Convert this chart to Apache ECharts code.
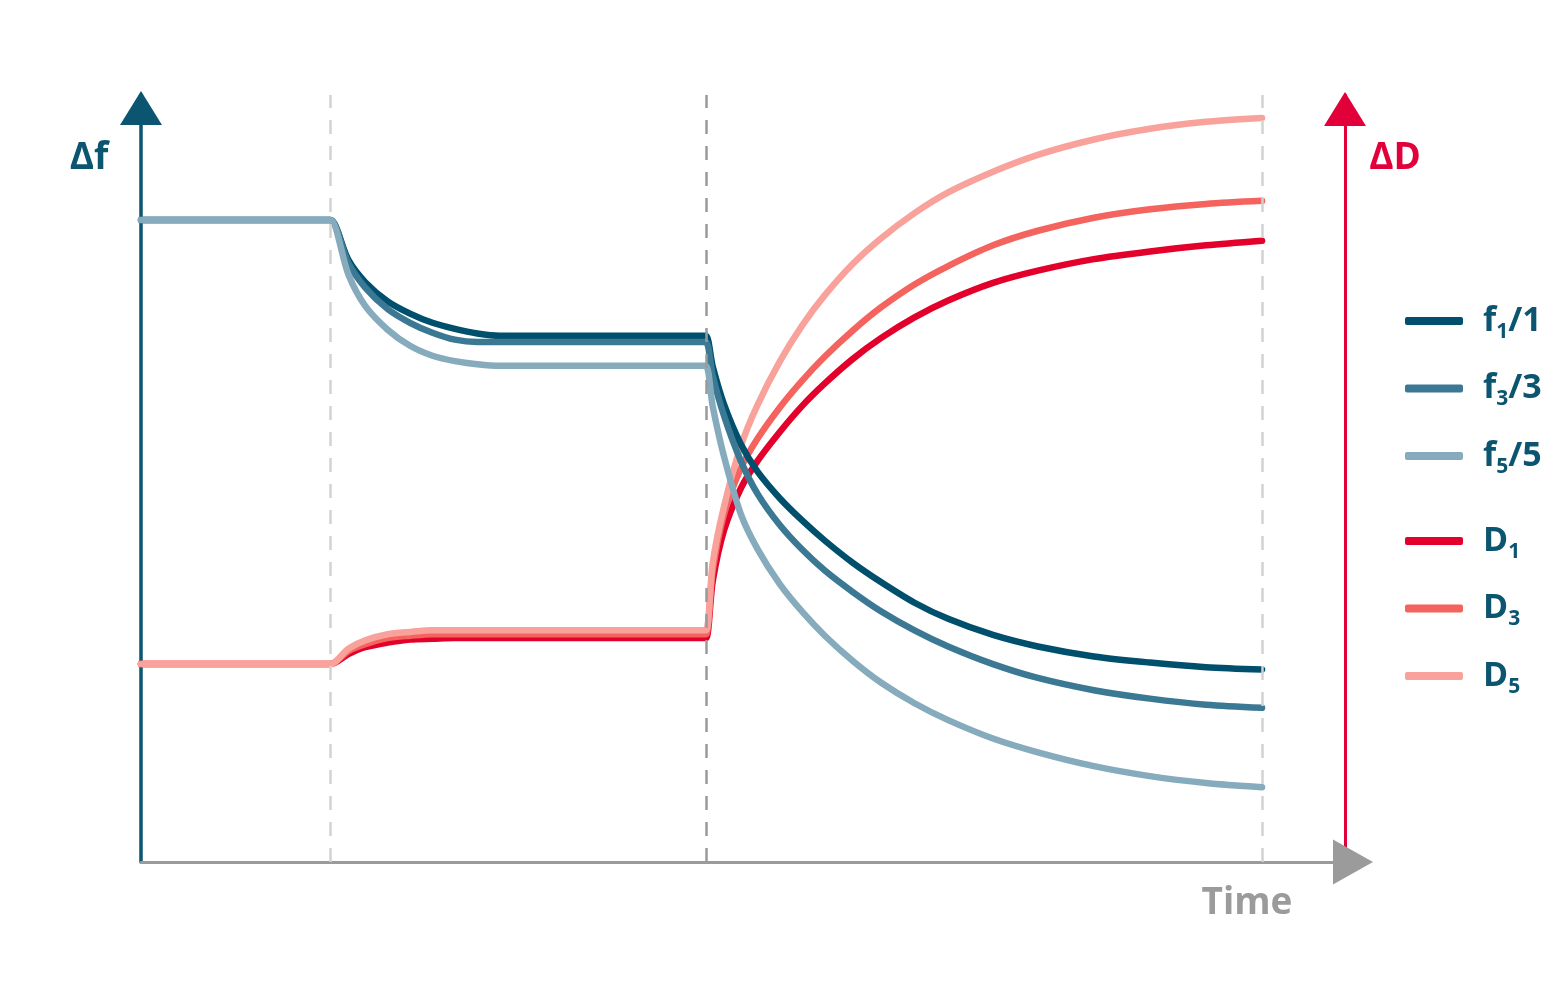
<!DOCTYPE html>
<html><head><meta charset="utf-8">
<script src="https://cdn.jsdelivr.net/npm/echarts@6/dist/echarts.min.js"></script>
<style>html,body{margin:0;padding:0;background:#fff}#c{width:1557px;height:984px}</style>
</head><body><div id="c"></div>
<script>
// Time samples (arbitrary units) shared by all series
const time = [0, 16.5, 16.9, 18.5, 20, 22, 24, 26, 28, 30, 32, 50.0, 50.4, 51, 52, 53.5, 55, 57, 59, 61, 63.5, 66, 69, 72, 76, 80, 85, 90, 95, 100];
// Frequency shifts (overtone-normalised), arbitrary units
const f1 = [83.7, 83.7, 83.7, 78.5, 75.6, 73.1, 71.5, 70.3, 69.5, 68.9, 68.6, 68.6, 68.6, 64.6, 59.7, 54.5, 50.9, 47.4, 44.5, 41.9, 39.0, 36.5, 33.8, 31.7, 29.6, 28.1, 26.8, 26.0, 25.4, 25.1];
const f3 = [83.7, 83.7, 83.7, 78.1, 74.9, 72.1, 70.3, 69.0, 68.1, 67.8, 67.8, 67.8, 67.8, 63.4, 58.2, 52.3, 48.0, 43.9, 40.7, 38.0, 35.2, 32.7, 30.2, 28.1, 25.8, 24.0, 22.4, 21.3, 20.5, 20.1];
const f5 = [83.7, 83.7, 83.7, 76.6, 72.5, 69.4, 67.3, 66.0, 65.3, 64.9, 64.7, 64.7, 64.7, 59.4, 52.9, 45.4, 40.8, 36.2, 32.6, 29.5, 26.2, 23.4, 20.7, 18.5, 16.1, 14.3, 12.5, 11.2, 10.3, 9.75];
// Dissipation shifts, arbitrary units
const D1 = [25.8, 25.8, 25.8, 27.1, 28.0, 28.6, 29.0, 29.1, 29.2, 29.2, 29.2, 29.2, 29.2, 36.6, 43.2, 48.7, 52.3, 56.1, 59.5, 62.4, 65.6, 68.3, 71.0, 73.2, 75.5, 77.1, 78.6, 79.6, 80.4, 81.0];
const D3 = [25.8, 25.8, 25.8, 27.5, 28.4, 29.2, 29.5, 29.7, 29.7, 29.7, 29.7, 29.7, 29.7, 38.0, 45.3, 51.3, 55.2, 59.3, 62.8, 65.9, 69.3, 72.3, 75.3, 77.7, 80.4, 82.3, 84.0, 85.1, 85.8, 86.2];
const D5 = [25.8, 25.8, 25.8, 27.8, 28.9, 29.7, 30.0, 30.2, 30.2, 30.2, 30.2, 30.2, 30.2, 39.0, 46.3, 54.2, 59.6, 65.3, 70.0, 73.9, 78.0, 81.3, 84.6, 87.3, 90.0, 92.2, 94.2, 95.6, 96.5, 97.0];
// Event markers (time)
const eventTimes = [16.9, 50.4, 100];
const fNames = ['f1/1', 'f3/3', 'f5/5'];
const dNames = ['D1', 'D3', 'D5'];
const legendLabels = ['f{s|1}/1', 'f{s|3}/3', 'f{s|5}/5', 'D{s|1}', 'D{s|3}', 'D{s|5}'];

const FONT = '"Open Sans", "DejaVu Sans", sans-serif';
const TEAL = '#0b5570';
const RED = '#e2003a';
const GREY = '#9b9b9b';
const colors = {'f1/1':'#00506d','f3/3':'#3b7893','f5/5':'#86abbd','D1':'#e3002b','D3':'#f4635d','D5':'#f8a29b'};
const dataByName = {'f1/1':f1,'f3/3':f3,'f5/5':f5,'D1':D1,'D3':D3,'D5':D5};
const labelByName = {};
fNames.concat(dNames).forEach((n,i)=>{ labelByName[n] = legendLabels[i]; });

function mkSeries(name, axisIdx) {
  const arr = dataByName[name];
  return {
    name, type: 'line', yAxisIndex: axisIdx, z: 3,
    data: time.map((t, i) => [t, arr[i]]),
    showSymbol: false, symbol: 'none', smooth: 0.3,
    color: colors[name],
    itemStyle: {color: colors[name]},
    lineStyle: {color: colors[name], width: 6.5, cap: 'round', join: 'round'},
    emphasis: {disabled: true}
  };
}

const legendCommon = {
  orient: 'vertical', left: 1400, itemWidth: 58, itemHeight: 8, itemGap: 29,
  icon: 'roundRect', selectedMode: false,
  formatter: n => labelByName[n],
  textStyle: {
    color: TEAL, fontFamily: FONT, fontSize: 34, fontWeight: 'bold', padding: [0, 0, 0, 15],
    rich: { s: {color: TEAL, fontFamily: FONT, fontSize: 21, fontWeight: 'bold', padding: [22, 0, 0, 0]} }
  }
};

const chart = echarts.init(document.getElementById('c'), null, {renderer: 'canvas'});
chart.setOption({
  animation: false,
  backgroundColor: '#fff',
  grid: {left: 141, right: 212, top: 95, bottom: 122, containLabel: false},
  xAxis: {
    type: 'value', min: 0, max: 107.4, z: 4,
    axisLine: {show: true, symbol: ['none', 'triangle'], symbolSize: [45, 40], symbolOffset: [0, 8],
      lineStyle: {color: GREY, width: 3}},
    axisTick: {show: false}, axisLabel: {show: false}, splitLine: {show: false}
  },
  yAxis: [{
    type: 'value', min: 0, max: 100, position: 'left', z: 3,
    axisLine: {show: true, onZero: false, symbol: ['none', 'triangle'], symbolSize: [42, 34], symbolOffset: [0, -13],
      lineStyle: {color: TEAL, width: 3.5}},
    axisTick: {show: false}, axisLabel: {show: false}, splitLine: {show: false}
  }, {
    type: 'value', min: 0, max: 100, position: 'right', z: 2,
    axisLine: {show: true, onZero: false, symbol: ['none', 'triangle'], symbolSize: [42, 34], symbolOffset: [0, -14],
      lineStyle: {color: RED, width: 3}},
    axisTick: {show: false}, axisLabel: {show: false}, splitLine: {show: false}
  }],
  legend: [
    Object.assign({}, legendCommon, {data: fNames, top: 299}),
    Object.assign({}, legendCommon, {data: dNames, top: 519})
  ],
  graphic: [
    {type: 'text', x: 89, y: 158, style: {text: 'Δf', fill: TEAL, font: 'bold 37px ' + FONT, align: 'center', verticalAlign: 'middle'}},
    {type: 'text', x: 1395, y: 158, style: {text: 'ΔD', fill: RED, font: 'bold 37px ' + FONT, align: 'center', verticalAlign: 'middle'}},
    {type: 'text', x: 1247, y: 903, style: {text: 'Time', fill: GREY, font: 'bold 37px ' + FONT, align: 'center', verticalAlign: 'middle'}}
  ],
  series: [
    {
      name: 'events', type: 'line', data: [], z: 1, silent: true,
      markLine: {
        silent: true, symbol: ['none', 'none'], label: {show: false},
        lineStyle: {type: [14, 12], width: 2.5, color: '#d0d0d0'},
        data: eventTimes.map((t, i) => ({xAxis: t, lineStyle: {color: i === 1 ? '#9a9a9a' : '#d2d2d2'}}))
      }
    },
    mkSeries('D1', 1), mkSeries('D3', 1), mkSeries('D5', 1),
    mkSeries('f1/1', 0), mkSeries('f3/3', 0), mkSeries('f5/5', 0)
  ]
});
</script></body></html>
